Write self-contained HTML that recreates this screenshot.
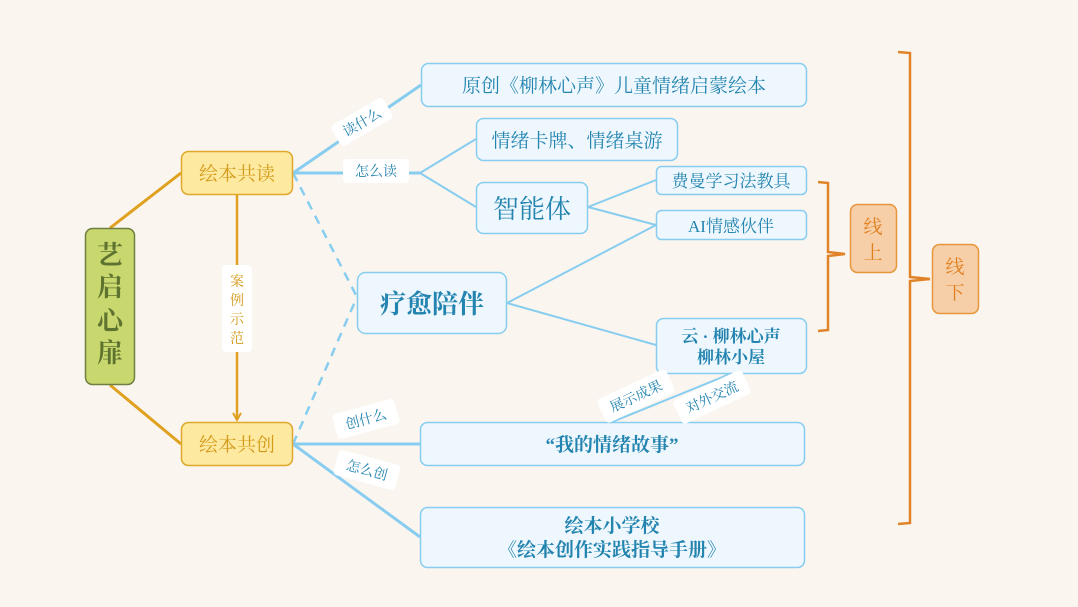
<!DOCTYPE html>
<html><head><meta charset="utf-8"><style>
html,body{margin:0;padding:0;background:#faf6ef;}
svg{display:block;font-family:"Liberation Serif","Noto Serif CJK SC",serif;}
</style></head><body>
<svg width="1078" height="607" viewBox="0 0 1078 607" xmlns="http://www.w3.org/2000/svg">
<rect width="1078" height="607" fill="#faf6ef"/>
<defs>
<marker id="ao" markerWidth="10" markerHeight="10" refX="8" refY="5" orient="auto" markerUnits="userSpaceOnUse"><path d="M1,1 L8,5 L1,9" fill="none" stroke="#e0a020" stroke-width="2"/></marker>
<marker id="ab" markerWidth="12" markerHeight="12" refX="10" refY="6" orient="auto" markerUnits="userSpaceOnUse"><path d="M1,1 L10,6 L1,11" fill="none" stroke="#88cdf0" stroke-width="2"/></marker>
</defs>
<g stroke="#e0a020" stroke-width="3" fill="none">
<line x1="110" y1="228" x2="181" y2="173"/>
<line x1="110" y1="385" x2="181" y2="444"/>
<line x1="237" y1="195" x2="237" y2="420" marker-end="url(#ao)" stroke-width="2.5"/>
</g>
<g stroke="#88cdf0" stroke-width="3" fill="none">
<line x1="293" y1="173" x2="421" y2="85"/>
<line x1="293" y1="173" x2="420" y2="173"/>
<line x1="420" y1="173" x2="476" y2="139" stroke-width="2"/>
<line x1="420" y1="173" x2="476" y2="207" stroke-width="2"/>
<line x1="293" y1="173" x2="357" y2="297" stroke-dasharray="9,7" stroke-width="2.5"/>
<line x1="293" y1="444" x2="357" y2="297" stroke-dasharray="9,7" stroke-width="2.5"/>
<line x1="507" y1="303" x2="656" y2="225" stroke-width="2"/>
<line x1="507" y1="303" x2="656" y2="345" stroke-width="2"/>
<line x1="588" y1="207" x2="656" y2="180" stroke-width="2"/>
<line x1="588" y1="207" x2="656" y2="225" stroke-width="2"/>
<line x1="612" y1="422" x2="730" y2="374" stroke-width="2" marker-end="url(#ab)"/>
<line x1="293" y1="444" x2="420" y2="444"/>
<line x1="293" y1="444" x2="420" y2="537"/>
</g>
<g stroke="#e08228" stroke-width="2.5" fill="none">
<path d="M818,182 L828,183 L828,252 L845,254 L828,256 L828,330 L818,331"/>
<path d="M898,52 L910,53 L910,277 L930,279 L910,281 L910,523 L898,524"/>
</g>
<rect x="85.5" y="228.5" width="49" height="156" rx="7" fill="#c8d86e" stroke="#6e7f3f" stroke-width="1.5"/>
<text font-size="26" font-weight="bold" fill="#5f7330" text-anchor="middle"><tspan x="110" y="264">艺</tspan><tspan x="110" y="296">启</tspan><tspan x="110" y="330">心</tspan><tspan x="110" y="362">扉</tspan></text>
<g fill="#fde9a0" stroke="#e0a82c" stroke-width="1.5">
<rect x="181.5" y="151.5" width="111" height="43" rx="7"/>
<rect x="181.5" y="422.5" width="111" height="43" rx="7"/>
</g>
<g font-size="19" fill="#d49a1a" text-anchor="middle"><text x="237" y="180">绘本共读</text><text x="237" y="451">绘本共创</text></g>
<rect x="222" y="265" width="30" height="87" rx="4" fill="#fff"/>
<text font-size="14" fill="#d49a1a" text-anchor="middle"><tspan x="237" y="286">案</tspan><tspan x="237" y="305">例</tspan><tspan x="237" y="324">示</tspan><tspan x="237" y="343">范</tspan></text>
<g fill="#eef7fd" stroke="#88cdf0" stroke-width="1.5">
<rect x="357.5" y="272.5" width="149" height="61" rx="8"/>
<rect x="421.5" y="63.5" width="385" height="43" rx="7"/>
<rect x="476.5" y="118.5" width="201" height="42" rx="7"/>
<rect x="476.5" y="182.5" width="111" height="51" rx="7"/>
<rect x="656.5" y="166.5" width="150" height="28" rx="5"/>
<rect x="656.5" y="210.5" width="150" height="29" rx="5"/>
<rect x="656.5" y="318.5" width="150" height="55" rx="7"/>
<rect x="420.5" y="422.5" width="384" height="43" rx="7"/>
<rect x="420.5" y="507.5" width="384" height="60" rx="7"/>
</g>
<g fill="#2384b0" text-anchor="middle">
<text x="432" y="313" font-size="26" font-weight="bold">疗愈陪伴</text>
<text x="614" y="92" font-size="19">原创《柳林心声》儿童情绪启蒙绘本</text>
<text x="577" y="147" font-size="19">情绪卡牌、情绪桌游</text>
<text x="532" y="218" font-size="26">智能体</text>
<text x="731" y="187" font-size="17">费曼学习法教具</text>
<text x="731" y="232" font-size="17">AI情感伙伴</text>
<text x="731" y="342" font-size="17" font-weight="bold">云 · 柳林心声</text>
<text x="731" y="363" font-size="17" font-weight="bold">柳林小屋</text>
<text x="612" y="451" font-size="19" font-weight="bold">“我的情绪故事”</text>
<text x="612" y="532" font-size="19" font-weight="bold">绘本小学校</text>
<text x="612" y="556" font-size="19" font-weight="bold">《绘本创作实践指导手册》</text>
</g>
<g font-size="14" fill="#2384b0" text-anchor="middle">
<g transform="translate(362,122) rotate(-30)"><rect x="-30" y="-12" width="60" height="24" rx="4" fill="#fff"/><text y="5">读什么</text></g>
<g transform="translate(376,171)"><rect x="-33" y="-12" width="66" height="24" rx="4" fill="#fff"/><text y="5">怎么读</text></g>
<g transform="translate(366,419) rotate(-15)"><rect x="-32" y="-13" width="64" height="26" rx="4" fill="#fff"/><text y="5">创什么</text></g>
<g transform="translate(367,470) rotate(15)"><rect x="-32" y="-13" width="64" height="26" rx="4" fill="#fff"/><text y="5">怎么创</text></g>
<g transform="translate(636,396) rotate(-25)"><rect x="-38" y="-13" width="76" height="26" rx="4" fill="#fff"/><text y="5">展示成果</text></g>
<g transform="translate(712,397) rotate(-25)"><rect x="-38" y="-13" width="76" height="26" rx="4" fill="#fff"/><text y="5">对外交流</text></g>
</g>
<g fill="#f6cfa8" stroke="#e8963c" stroke-width="1.5">
<rect x="850.5" y="204.5" width="46" height="68" rx="7"/>
<rect x="932.5" y="244.5" width="46" height="69" rx="7"/>
</g>
<g font-size="19" fill="#e07f1f" text-anchor="middle">
<text x="873" y="233">线</text><text x="873" y="259">上</text>
<text x="955" y="273">线</text><text x="955" y="299">下</text>
</g>
</svg>
</body></html>
